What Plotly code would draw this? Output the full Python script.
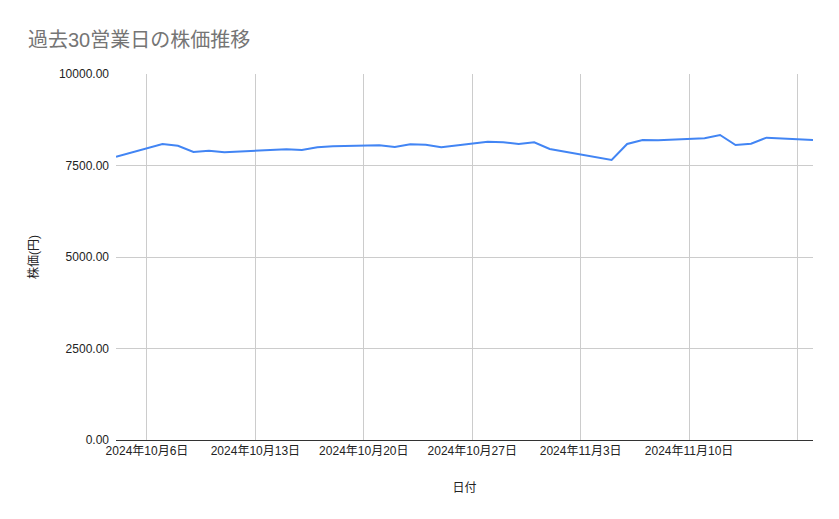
import plotly.graph_objects as go

# 過去30営業日 (祝日 10/14, 11/4 を除く)
dates = ["2024-10-04", "2024-10-07", "2024-10-08", "2024-10-09", "2024-10-10",
         "2024-10-11", "2024-10-15", "2024-10-16", "2024-10-17", "2024-10-18",
         "2024-10-21", "2024-10-22", "2024-10-23", "2024-10-24", "2024-10-25",
         "2024-10-28", "2024-10-29", "2024-10-30", "2024-10-31", "2024-11-01",
         "2024-11-05", "2024-11-06", "2024-11-07", "2024-11-08", "2024-11-11",
         "2024-11-12", "2024-11-13", "2024-11-14", "2024-11-15", "2024-11-18"]
prices = [7740, 8087, 8041, 7869, 7904,
          7861, 7943, 7923, 7997, 8025,
          8052, 8005, 8079, 8068, 7997,
          8150, 8134, 8087, 8134, 7951,
          7650, 8087, 8197, 8189, 8243,
          8333, 8060, 8096, 8260, 8197]

tick_dates = ["2024-10-06", "2024-10-13", "2024-10-20", "2024-10-27",
              "2024-11-03", "2024-11-10", "2024-11-17"]
tick_labels = ["2024年10月6日", "2024年10月13日", "2024年10月20日", "2024年10月27日",
               "2024年11月3日", "2024年11月10日", ""]
y_ticks = [0, 2500, 5000, 7500, 10000]

FONT = "Liberation Sans, Arial, Noto Sans CJK JP, sans-serif"

# the page body keeps its 8px margin, so the figure is 8px smaller than the window
W, H = 831, 511

fig = go.Figure(go.Scatter(
    x=dates, y=prices, mode="lines",
    line=dict(color="#4285F4", width=2),
    hoverinfo="x+y",
))

fig.update_layout(
    width=W, height=H,
    margin=dict(l=108, r=26, t=66, b=79),
    paper_bgcolor="white", plot_bgcolor="white",
    font=dict(family=FONT, size=12, color="#222222"),
    showlegend=False,
    title=dict(text="過去30営業日の株価推移",
               x=20 / W, xref="container", xanchor="left",
               y=1 - 32 / H, yref="container", yanchor="middle",
               font=dict(family=FONT, size=20, color="#757575")),
)

fig.update_xaxes(
    range=[dates[0], dates[-1]],
    tickmode="array", tickvals=tick_dates, ticktext=tick_labels,
    showgrid=True, gridcolor="#cccccc", gridwidth=1,
    showline=True, linecolor="#333333", linewidth=1,
    zeroline=False, ticks="",
    tickfont=dict(size=12, color="#222222"),
    title=dict(text="日付", standoff=26, font=dict(size=12, color="#222222")),
)
fig.update_yaxes(
    range=[0, 10000],
    tickmode="array", tickvals=y_ticks, tickformat=".2f",
    showgrid=True, gridcolor="#cccccc", gridwidth=1,
    zeroline=False, ticks="", showline=False,
    ticklabelstandoff=6,
    tickfont=dict(size=12, color="#222222"),
    title=dict(text="株価(円)", standoff=17, font=dict(size=12, color="#222222")),
)

fig.write_html("out.html")
